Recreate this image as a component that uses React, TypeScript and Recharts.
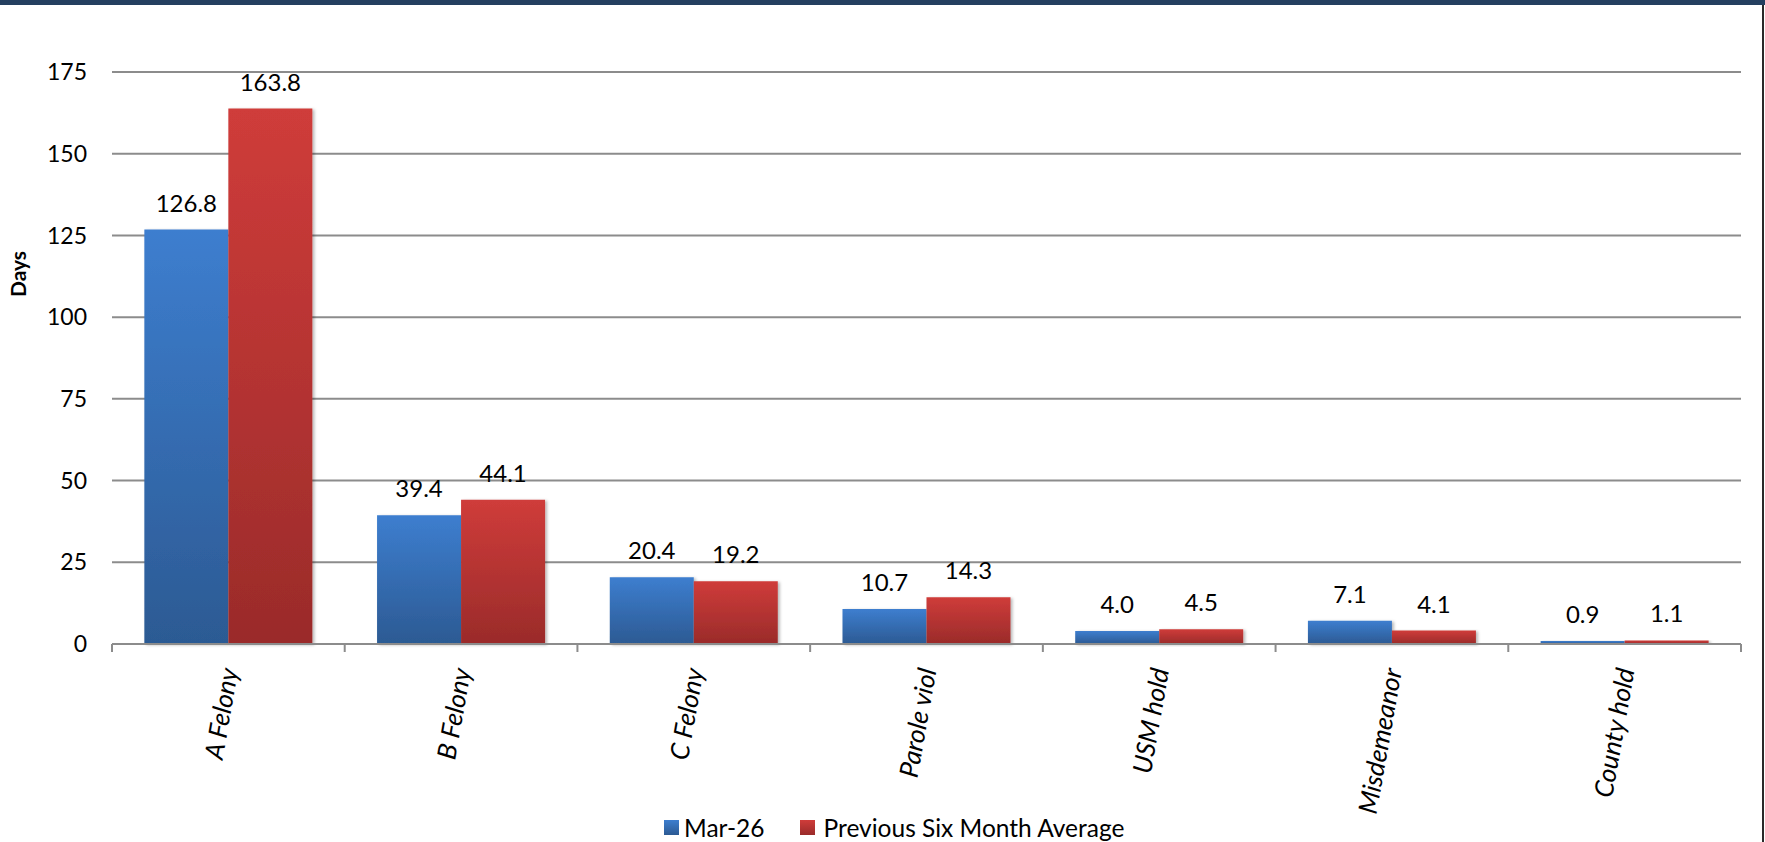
import React from 'react';
import { BarChart, Bar, XAxis, YAxis, CartesianGrid, LabelList } from 'recharts';

const categories = ['A Felony', 'B Felony', 'C Felony', 'Parole viol', 'USM hold', 'Misdemeanor', 'County hold'];
const marValues = [126.8, 39.4, 20.4, 10.7, 4.0, 7.1, 0.9];
const sixMonthAvg = [163.8, 44.1, 19.2, 14.3, 4.5, 4.1, 1.1];
const seriesNames = ['Mar-26', 'Previous Six Month Average'];
const yTicks = [0, 25, 50, 75, 100, 125, 150, 175];

const data = categories.map((name, i) => ({ name, mar: marValues[i], avg: sixMonthAvg[i] }));

const W = 1765;
const H = 842;
const margin = { top: 72, right: 24, bottom: 48, left: 0 };
const Y_AXIS_W = 112;
const X_AXIS_H = 150;
const BAND = (W - margin.left - margin.right - Y_AXIS_W) / categories.length;
const FONT = 'Lato, "Open Sans", sans-serif';
const GRID = '#8c8c8c';

const XTick = (props: any) => {
  const { x, y, payload, index } = props;
  const half = BAND / 2;
  const ax = x + 10;
  const ay = y + 26;
  return (
    <g>
      <line x1={x - half} x2={x - half} y1={y} y2={y + 8} stroke={GRID} strokeWidth={2} />
      {index === categories.length - 1 && (
        <line x1={x + half} x2={x + half} y1={y} y2={y + 8} stroke={GRID} strokeWidth={2} />
      )}
      <text
        x={ax}
        y={ay}
        transform={`rotate(-80, ${ax}, ${ay})`}
        textAnchor="end"
        fontStyle="italic"
        fontSize={26}
        fontFamily={FONT}
        fill="#000"
      >
        {payload.value}
      </text>
    </g>
  );
};

const DaysLabel = () => (
  <text
    x={26}
    y={274}
    transform="rotate(-90, 26, 274)"
    textAnchor="middle"
    fontWeight="bold"
    fontSize={21}
    fontFamily={FONT}
    fill="#000"
  >
    Days
  </text>
);

const fmt = (v: any) => Number(v).toFixed(1);

export default function App() {
  return (
    <div style={{ position: 'absolute', left: 0, top: 0, width: W, height: H, background: '#fff', fontFamily: FONT }}>
      <style>{`.recharts-bar-rectangle { filter: url(#barShadow); }`}</style>
      <div style={{ position: 'absolute', left: 0, top: 0, width: W, height: 5, background: '#243F60' }} />
      <div style={{ position: 'absolute', left: 1762, top: 5, width: 2, height: H - 5, background: '#2a2a2a' }} />
      <div style={{ position: 'absolute', left: 0, top: 0 }}>
        <BarChart width={W} height={H} data={data} margin={margin} barGap={0} barCategoryGap="13.9%">
          <defs>
            <linearGradient id="gBlue" x1="0" y1="0" x2="0" y2="1">
              <stop offset="0%" stopColor="#3D7ECF" />
              <stop offset="100%" stopColor="#2C5A93" />
            </linearGradient>
            <linearGradient id="gRed" x1="0" y1="0" x2="0" y2="1">
              <stop offset="0%" stopColor="#CF3C3A" />
              <stop offset="100%" stopColor="#9A2B2A" />
            </linearGradient>
            <filter id="barShadow" x="-10%" y="-10%" width="130%" height="130%">
              <feDropShadow dx="2" dy="1" stdDeviation="1.5" floodColor="#000" floodOpacity="0.28" />
            </filter>
          </defs>
          <CartesianGrid vertical={false} stroke={GRID} strokeWidth={2} />
          <XAxis
            dataKey="name"
            height={X_AXIS_H}
            interval={0}
            tickLine={false}
            tickSize={0}
            tickMargin={0}
            axisLine={{ stroke: GRID, strokeWidth: 2 }}
            tick={<XTick />}
          />
          <YAxis
            width={Y_AXIS_W}
            domain={[0, 175]}
            ticks={yTicks}
            interval={0}
            axisLine={false}
            tickLine={false}
            tickSize={0}
            tickMargin={25}
            tick={{ fill: '#000', fontSize: 23, fontFamily: FONT }}
            label={<DaysLabel />}
          />
          <Bar dataKey="mar" name={seriesNames[0]} fill="url(#gBlue)" isAnimationActive={false}>
            <LabelList dataKey="mar" position="top" offset={18} formatter={fmt} fill="#000" fontSize={24} fontFamily={FONT} />
          </Bar>
          <Bar dataKey="avg" name={seriesNames[1]} fill="url(#gRed)" isAnimationActive={false}>
            <LabelList dataKey="avg" position="top" offset={18} formatter={fmt} fill="#000" fontSize={24} fontFamily={FONT} />
          </Bar>
        </BarChart>
      </div>
      <div
        style={{
          position: 'absolute',
          left: 664,
          top: 812,
          height: 30,
          display: 'flex',
          alignItems: 'center',
          fontSize: 24.5,
          color: '#000',
          whiteSpace: 'nowrap',
        }}
      >
        <span style={{ width: 15, height: 15, background: 'linear-gradient(#3D7ECF, #2C5A93)', marginRight: 5 }} />
        <span style={{ marginRight: 35 }}>{seriesNames[0]}</span>
        <span style={{ width: 15, height: 15, background: 'linear-gradient(#CF3C3A, #9A2B2A)', marginRight: 9 }} />
        <span>{seriesNames[1]}</span>
      </div>
    </div>
  );
}
